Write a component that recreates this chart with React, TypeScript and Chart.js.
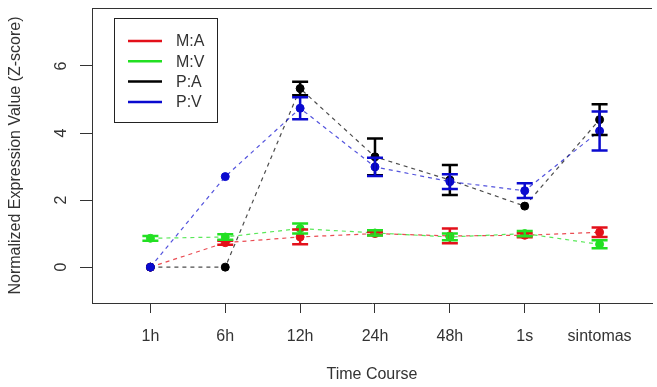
import React, { useEffect, useRef } from "react";
import { Chart, registerables } from "chart.js";

Chart.register(...registerables);

// ---- data ----
const timePoints = ["1h", "6h", "12h", "24h", "48h", "1s", "sintomas"];
const seriesNames = ["M:A", "M:V", "P:A", "P:V"];
const seriesColors = ["#e3101a", "#22e022", "#000000", "#0a0acf"];
const lineColors = ["rgba(227,16,26,0.75)", "rgba(34,224,34,0.75)", "rgba(0,0,0,0.7)", "rgba(10,10,207,0.7)"];

const maMean = [0, 0.73, 0.9, 1.0, 0.93, 0.95, 1.04];
const maErr = [0, 0.06, 0.22, 0.05, 0.22, 0.06, 0.14];
const mvMean = [0.86, 0.9, 1.15, 1.02, 0.9, 1.0, 0.68];
const mvErr = [0.07, 0.08, 0.15, 0.08, 0.1, 0.08, 0.12];
const paMean = [0, 0, 5.33, 3.29, 2.6, 1.82, 4.4];
const paErr = [0, 0, 0.2, 0.55, 0.45, 0, 0.46];
const pvMean = [0, 2.7, 4.74, 2.99, 2.55, 2.28, 4.06];
const pvErr = [0, 0, 0.33, 0.27, 0.22, 0.22, 0.58];

const yTickValues = [0, 2, 4, 6];
const yTitle = "Normalized Expression Value (Z-score)";
const xTitle = "Time Course";

const means = [maMean, mvMean, paMean, pvMean];
const errs = [maErr, mvErr, paErr, pvErr];

const FONT = "'Liberation Sans', Arial, Helvetica, sans-serif";
const FS = 16;

const decorPlugin = {
  id: "decor",
  afterDatasetsDraw(chart: any) {
    const { ctx } = chart;
    const xs = chart.scales.x;
    const ys = chart.scales.y;
    ctx.save();
    for (let s = 0; s < means.length; s++) {
      ctx.strokeStyle = seriesColors[s];
      ctx.lineWidth = 2.5;
      ctx.setLineDash([]);
      for (let i = 0; i < means[s].length; i++) {
        const e = errs[s][i];
        if (!e) continue;
        const px = xs.getPixelForValue(i + 1);
        const yt = ys.getPixelForValue(means[s][i] + e);
        const yb = ys.getPixelForValue(means[s][i] - e);
        ctx.beginPath();
        ctx.moveTo(px, yt);
        ctx.lineTo(px, yb);
        ctx.moveTo(px - 8, yt);
        ctx.lineTo(px + 8, yt);
        ctx.moveTo(px - 8, yb);
        ctx.lineTo(px + 8, yb);
        ctx.stroke();
      }
    }
    ctx.restore();
  },
  afterDraw(chart: any) {
    const { ctx, chartArea } = chart;
    const ys = chart.scales.y;
    ctx.save();
    // top frame line
    ctx.strokeStyle = "#333";
    ctx.lineWidth = 1;
    ctx.beginPath();
    ctx.moveTo(chartArea.left, chartArea.top + 0.5);
    ctx.lineTo(chartArea.right, chartArea.top + 0.5);
    ctx.stroke();
    // y tick labels (rotated, R style)
    ctx.fillStyle = "#333";
    ctx.font = `${FS}px ${FONT}`;
    ctx.textAlign = "center";
    ctx.textBaseline = "middle";
    for (const v of yTickValues) {
      const py = ys.getPixelForValue(v);
      ctx.save();
      ctx.translate(62, py);
      ctx.rotate(-Math.PI / 2);
      ctx.fillText(String(v), 0, 0);
      ctx.restore();
    }
    // legend
    const lx = 114, ly = 18, lw = 103, lh = 104;
    ctx.fillStyle = "#fff";
    ctx.fillRect(lx, ly, lw, lh);
    ctx.strokeStyle = "#222";
    ctx.lineWidth = 1;
    ctx.strokeRect(lx + 0.5, ly + 0.5, lw, lh);
    ctx.textAlign = "left";
    ctx.font = `${FS}px ${FONT}`;
    for (let i = 0; i < seriesNames.length; i++) {
      const ry = 41 + i * 20.3;
      ctx.strokeStyle = seriesColors[i];
      ctx.lineWidth = 2.5;
      ctx.beginPath();
      ctx.moveTo(128, ry);
      ctx.lineTo(162, ry);
      ctx.stroke();
      ctx.fillStyle = "#333";
      ctx.fillText(seriesNames[i], 176, ry + 1);
    }
    ctx.restore();
  },
};

export default function App() {
  const ref = useRef<HTMLCanvasElement>(null);
  useEffect(() => {
    const order = [4, 3, 2, 1];
    const chart = new Chart(ref.current!, {
      type: "line",
      data: {
        datasets: seriesNames.map((name, s) => ({
          label: name,
          data: means[s].map((v, i) => ({ x: i + 1, y: v })),
          borderColor: lineColors[s],
          backgroundColor: seriesColors[s],
          pointBackgroundColor: seriesColors[s],
          pointBorderColor: seriesColors[s],
          borderWidth: 1.2,
          borderDash: [4, 4],
          pointRadius: 4,
          pointBorderWidth: 1,
          tension: 0,
          fill: false,
          order: order[s],
        })),
      },
      options: {
        responsive: false,
        animation: false,
        devicePixelRatio: 1,
        layout: { padding: { top: 8, right: 0, left: 0, bottom: 0 } },
        plugins: { legend: { display: false }, tooltip: { enabled: false } },
        scales: {
          x: {
            type: "linear",
            min: 0.22,
            max: 7.7,
            afterBuildTicks: (s: any) => {
              s.ticks = timePoints.map((_, i) => ({ value: i + 1 }));
            },
            afterFit: (s: any) => {
              s.height = 84;
            },
            grid: { display: true, drawOnChartArea: false, drawTicks: true, tickLength: 10, color: "#333" },
            border: { display: true, color: "#333", width: 1 },
            ticks: {
              autoSkip: false,
              maxRotation: 0,
              minRotation: 0,
              padding: 14,
              color: "#333",
              font: { family: FONT, size: FS },
              callback: (v: any) => timePoints[Math.round(Number(v)) - 1] ?? "",
            },
            title: {
              display: true,
              text: xTitle,
              color: "#333",
              font: { family: FONT, size: FS },
              padding: { top: 0, bottom: 3 },
            },
          },
          y: {
            type: "linear",
            min: -1.07,
            max: 7.73,
            afterBuildTicks: (s: any) => {
              s.ticks = yTickValues.map((v) => ({ value: v }));
            },
            afterFit: (s: any) => {
              s.width = 92;
            },
            grid: { display: true, drawOnChartArea: false, drawTicks: true, tickLength: 12, color: "#333" },
            border: { display: true, color: "#333", width: 1 },
            ticks: { display: false },
            title: {
              display: true,
              text: yTitle,
              color: "#333",
              font: { family: FONT, size: FS },
              padding: { top: 6, bottom: 0 },
            },
          },
        },
      },
      plugins: [decorPlugin],
    });
    return () => chart.destroy();
  }, []);
  return (
    <div style={{ position: "absolute", left: 0, top: 0, width: 657, height: 387, background: "#fff" }}>
      <canvas ref={ref} width={657} height={387} style={{ display: "block" }} />
    </div>
  );
}
